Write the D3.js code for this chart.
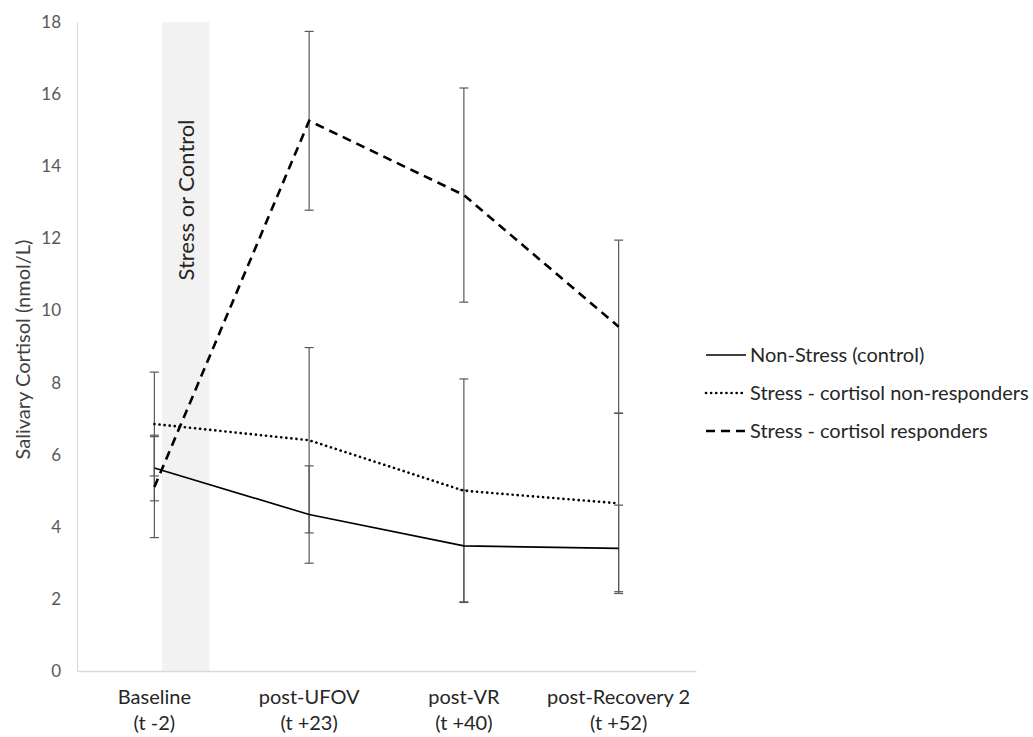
<!DOCTYPE html>
<html>
<head>
<meta charset="utf-8">
<script src="https://cdn.jsdelivr.net/npm/d3@7"></script>
<style>
  body { margin: 0; background: #fff; }
  svg { display: block; font-family: Lato, "Open Sans", sans-serif; }
</style>
</head>
<body>
<div id="chart"></div>
<script>
// categories and their time labels
var categories = ["Baseline", "post-UFOV", "post-VR", "post-Recovery 2"];
var timeLabels = ["(t -2)", "(t +23)", "(t +40)", "(t +52)"];

// series means and error bar half widths (nmol/L)
var nonStress = [5.63, 4.34, 3.47, 3.40];
var nonStressErr = [0.91, 1.35, 1.55, 1.20];
var nonResponders = [6.85, 6.40, 5.00, 4.65];
var nonRespondersErr = [1.44, 2.57, 3.10, 2.50];
var responders = [5.10, 15.26, 13.20, 9.55];
var respondersErr = [1.40, 2.48, 2.97, 2.40];

var yTicks = [0, 2, 4, 6, 8, 10, 12, 14, 16, 18];

var seriesNames = ["Non-Stress (control)", "Stress - cortisol non-responders", "Stress - cortisol responders"];

var W = 1033, H = 737;
var margin = {top: 22, left: 77, bottom: 66, right: 337};

var svg = d3.select("#chart").append("svg")
    .attr("width", W)
    .attr("height", H);

var x = d3.scaleBand()
    .domain(categories)
    .range([margin.left, W - margin.right]);

var y = d3.scaleLinear()
    .domain([0, 18])
    .range([H - margin.bottom, margin.top]);

function cx(c) { return x(c) + x.bandwidth() / 2; }

// shaded "Stress or Control" band between baseline and post-UFOV
var bw = x.bandwidth();
svg.append("rect")
    .attr("x", cx(categories[0]) + bw * 0.05)
    .attr("y", y(18))
    .attr("width", bw * 0.305)
    .attr("height", y(0) - y(18))
    .attr("fill", "#f2f2f2");

svg.append("text")
    .attr("transform", "translate(" + (cx(categories[0]) + bw * 0.205 + 8) + "," + 200 + ") rotate(-90)")
    .attr("text-anchor", "middle")
    .attr("font-size", 22)
    .attr("fill", "#262626")
    .text("Stress or Control");

// axes
var yaxis = d3.axisLeft(y).tickValues(yTicks).tickSize(0).tickPadding(16);
var gy = svg.append("g")
    .attr("transform", "translate(" + margin.left + ",0)")
    .call(yaxis);
gy.select(".domain").attr("stroke", "#d9d9d9").attr("stroke-width", 1);
gy.selectAll("text").attr("font-size", 17).attr("fill", "#595959").attr("font-family", "Lato, sans-serif");

var xaxis = d3.axisBottom(x).tickSize(0).tickFormat("");
var gx = svg.append("g")
    .attr("transform", "translate(0," + y(0) + ")")
    .call(xaxis);
gx.select(".domain").attr("stroke", "#d9d9d9").attr("stroke-width", 1.3);

var labels = svg.append("g").selectAll("text")
    .data(categories)
  .enter().append("text")
    .attr("text-anchor", "middle")
    .attr("font-size", 20)
    .attr("fill", "#262626");
labels.append("tspan")
    .attr("x", function(d) { return cx(d); })
    .attr("y", y(0) + 33)
    .text(function(d) { return d; });
labels.append("tspan")
    .attr("x", function(d) { return cx(d); })
    .attr("y", y(0) + 59)
    .text(function(d, i) { return timeLabels[i]; });

svg.append("text")
    .attr("transform", "translate(30," + ((y(0) + y(18)) / 2 + 3) + ") rotate(-90)")
    .attr("text-anchor", "middle")
    .attr("font-size", 20)
    .attr("fill", "#404040")
    .text("Salivary Cortisol (nmol/L)");

// series
var series = [
  {name: seriesNames[0], values: nonStress, err: nonStressErr, width: 1.6, dash: null, cap: "butt"},
  {name: seriesNames[1], values: nonResponders, err: nonRespondersErr, width: 2.6, dash: "0.1,5", cap: "round"},
  {name: seriesNames[2], values: responders, err: respondersErr, width: 2.6, dash: "9,6", cap: "butt"}
];

// error bars
series.forEach(function(s) {
  var g = svg.append("g").attr("stroke", "#595959").attr("stroke-width", 1.2);
  categories.forEach(function(c, i) {
    var hi = y(s.values[i] + s.err[i]), lo = y(s.values[i] - s.err[i]), px = cx(c);
    g.append("line").attr("x1", px).attr("x2", px).attr("y1", hi).attr("y2", lo);
    g.append("line").attr("x1", px - 4.5).attr("x2", px + 4.5).attr("y1", hi).attr("y2", hi);
    g.append("line").attr("x1", px - 4.5).attr("x2", px + 4.5).attr("y1", lo).attr("y2", lo);
  });
});

var line = d3.line()
    .x(function(d, i) { return cx(categories[i]); })
    .y(function(d) { return y(d); });

series.forEach(function(s) {
  svg.append("path")
      .datum(s.values)
      .attr("fill", "none")
      .attr("stroke", "#000")
      .attr("stroke-width", s.width)
      .attr("stroke-linecap", s.cap)
      .attr("stroke-dasharray", s.dash)
      .attr("d", line);
});

// legend
var legend = svg.append("g");
series.forEach(function(s, i) {
  var ly = 355 + i * 38;
  legend.append("line")
      .attr("x1", 706).attr("x2", 746)
      .attr("y1", ly).attr("y2", ly)
      .attr("stroke", "#000")
      .attr("stroke-width", s.width)
      .attr("stroke-linecap", s.cap)
      .attr("stroke-dasharray", i == 2 ? "9,6" : s.dash);
  legend.append("text")
      .attr("x", 750).attr("y", ly + 7)
      .attr("font-size", 20)
      .attr("fill", "#262626")
      .text(s.name);
});
</script>
</body>
</html>
